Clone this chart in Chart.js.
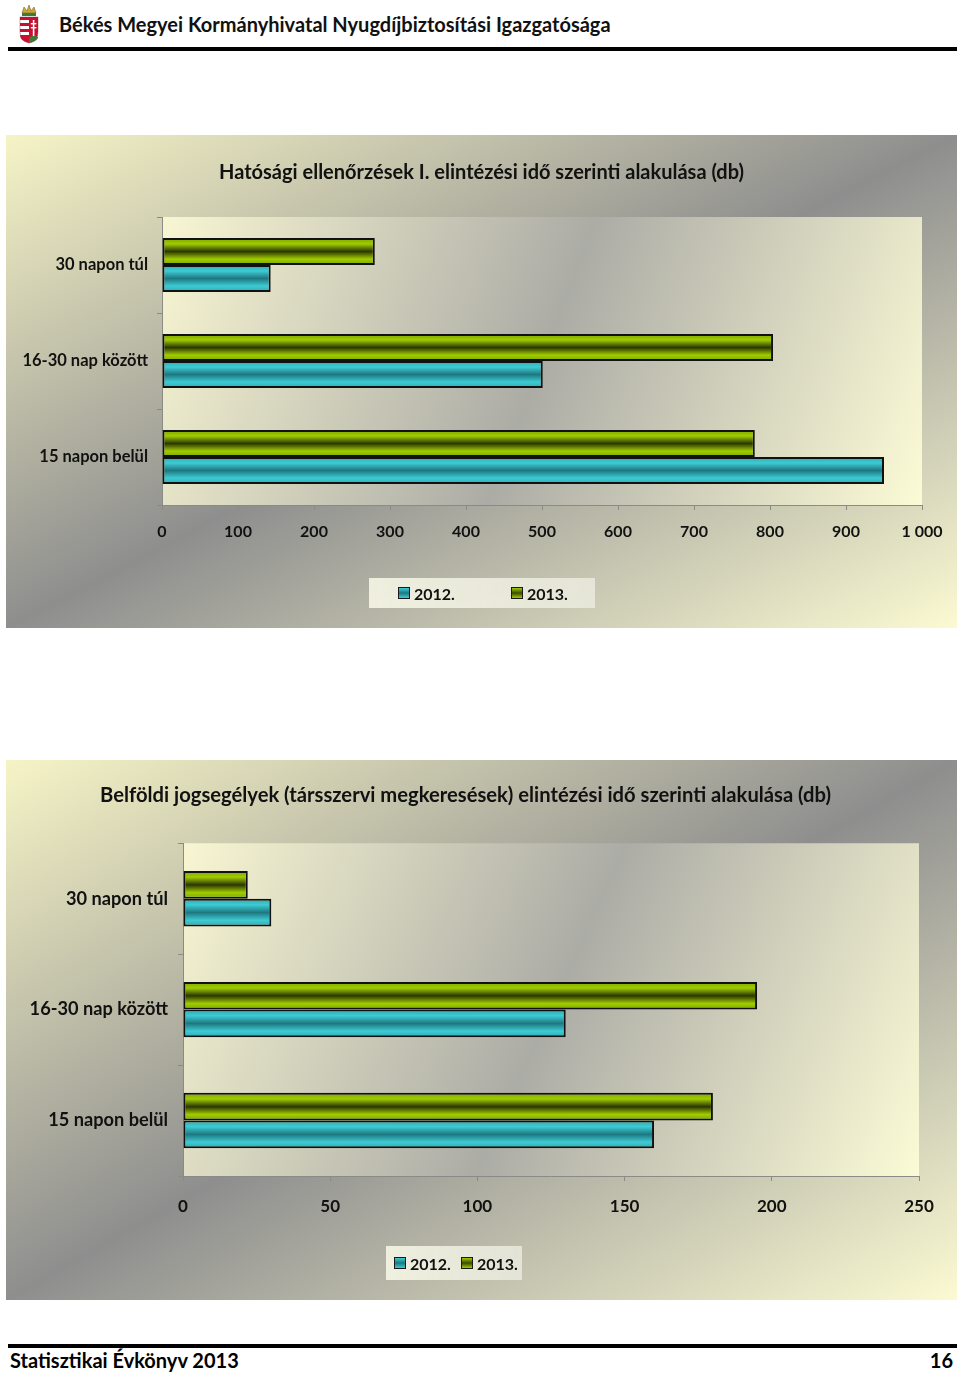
<!DOCTYPE html>
<html lang="hu">
<head>
<meta charset="utf-8">
<script src="https://cdn.jsdelivr.net/npm/chart.js@4/dist/chart.umd.min.js"></script>
<style>
  body { margin: 0; width: 960px; height: 1374px; background: #fff; position: relative; overflow: hidden; font-family: Lato, sans-serif; }
  .head { position: absolute; left: 59px; top: 12px; font: bold 20px Lato, sans-serif; color: #111; white-space: nowrap; }
  .logo { position: absolute; left: 17px; top: 4px; }
  .rule { position: absolute; left: 8px; width: 949px; height: 4px; background: #000; }
  .panel { position: absolute; left: 6px; width: 951px; background: linear-gradient(to bottom right, #f6f4c6 0%, #8e8e8e 50%, #fbfad2 100%); }
  .panel canvas { position: absolute; left: 0; top: 0; }
  .legend { position: absolute; background: linear-gradient(to right, rgba(255,255,238,0.8), rgba(238,238,228,0.75)); }
  .legend .item { position: absolute; top: 0; height: 100%; display: flex; align-items: center; font: bold 16px Lato, sans-serif; color: #111; white-space: nowrap; }
  .legend .sw { width: 10px; height: 10px; border: 1.5px solid #1a1a1a; margin-right: 4px; }
  .foot { position: absolute; top: 1348px; font: bold 20px Lato, sans-serif; color: #000; }
</style>
</head>
<body>
<svg class="logo" width="24" height="40" viewBox="0 0 24 40">
  <path d="M5 9 L7 3 L10 7 L12 1 L14 7 L17 3 L19 9 Z" fill="#c8a83a" stroke="#7a6a20" stroke-width="0.6"/>
  <rect x="5" y="9" width="14" height="3" fill="#3f7a3a"/>
  <path d="M3 13 H21 V28 Q21 37 12 39 Q3 37 3 28 Z" fill="#fff" stroke="#888" stroke-width="0.6"/>
  <rect x="3" y="13" width="9" height="3" fill="#c8102e"/>
  <rect x="3" y="19" width="9" height="3" fill="#c8102e"/>
  <rect x="3" y="25" width="9" height="3" fill="#c8102e"/>
  <path d="M3 31 H12 V39 Q3 37 3 31 Z" fill="#c8102e"/>
  <path d="M12 13 H21 V28 Q21 37 12 39 Z" fill="#c8102e"/>
  <path d="M12 34 Q16 30 21 33 V34 Q19 38 12 39 Z" fill="#3f7a3a"/>
  <rect x="15.8" y="16" width="1.6" height="16" fill="#fff"/>
  <rect x="13.8" y="19" width="5.6" height="1.4" fill="#fff"/>
  <rect x="13.8" y="23" width="5.6" height="1.4" fill="#fff"/>
</svg>
<div class="head">Békés Megyei Kormányhivatal Nyugdíjbiztosítási Igazgatósága</div>
<div class="rule" style="top:47px"></div>

<div class="panel" id="panel1" style="top:135px;height:493px">
  <canvas id="chart1" width="951" height="493"></canvas>
  <div class="legend" id="legend1" style="left:363px;top:443px;width:226px;height:30px"></div>
</div>
<div class="panel" id="panel2" style="top:760px;height:540px">
  <canvas id="chart2" width="951" height="540"></canvas>
  <div class="legend" id="legend2" style="left:380px;top:486px;width:136px;height:34px"></div>
</div>

<div class="rule" style="top:1344px"></div>
<div class="foot" style="left:10px">Statisztikai Évkönyv 2013</div>
<div class="foot" style="right:7px">16</div>

<script>
const categories = ["30 napon túl", "16-30 nap között", "15 napon belül"];
const seriesNames = ["2012.", "2013."];

// Hatósági ellenőrzések (db)
const ellenorzes2012 = [143, 501, 950];
const ellenorzes2013 = [280, 804, 780];

// Belföldi jogsegélyek (db)
const jogsegely2012 = [30, 130, 160];
const jogsegely2013 = [22, 195, 180];

const greenStops = ["#7ea400", "#a0cc00", "#2c3600", "#a0cc00", "#7ea400"];
const cyanStops = ["#2aaab2", "#3ecbd3", "#1d7880", "#3ecbd3", "#2aaab2"];

function thousands(v) {
  return String(v).replace(/\B(?=(\d{3})+(?!\d))/g, " ");
}

// vertical gradient for each bar, placed from the category scale
function barFill(stops, catPct) {
  return (c) => {
    const chart = c.chart;
    const sc = chart.scales.y;
    if (!sc || c.dataIndex === undefined || !(sc.height > 0)) return stops[1];
    const catH = sc.height / chart.data.labels.length;
    const barH = catH * catPct / chart.data.datasets.length;
    const top = sc.getPixelForValue(c.dataIndex) - catH * catPct / 2 + c.datasetIndex * barH;
    if (!Number.isFinite(top) || !Number.isFinite(barH)) return stops[1];
    const g = chart.ctx.createLinearGradient(0, top, 0, top + barH);
    [0, 0.22, 0.5, 0.78, 1].forEach((p, i) => g.addColorStop(p, stops[i]));
    return g;
  };
}

const plotBg = {
  id: "plotBg",
  beforeDraw(chart) {
    const { ctx, chartArea: a } = chart;
    ctx.save();
    const g = ctx.createLinearGradient(a.left, a.top, a.right, a.bottom);
    g.addColorStop(0, "#f8f6d2");
    g.addColorStop(0.5, "#acaca6");
    g.addColorStop(1, "#fcfbd6");
    ctx.fillStyle = g;
    ctx.fillRect(a.left, a.top, a.right - a.left, a.bottom - a.top);
    ctx.restore();
  }
};

function updateLegend(chart, boxId, positions) {
  const box = document.getElementById(boxId);
  box.innerHTML = "";
  // legend lists 2012. first, then 2013.
  const items = chart.data.datasets.slice().reverse();
  items.forEach((ds, i) => {
    const item = document.createElement("div");
    item.className = "item";
    item.style.left = positions[i] + "px";
    const sw = document.createElement("span");
    sw.className = "sw";
    sw.style.background = ds.swatch;
    item.appendChild(sw);
    item.appendChild(document.createTextNode(ds.label));
    box.appendChild(item);
  });
}

function makeChart(id, s) {
  const chart = new Chart(document.getElementById(id), {
    type: "bar",
    data: {
      labels: categories,
      datasets: [
        {
          label: seriesNames[1], data: s.d2013,
          backgroundColor: barFill(greenStops, s.catPct),
          swatch: "linear-gradient(#a0cc00, #3a4a00 50%, #a0cc00)"
        },
        {
          label: seriesNames[0], data: s.d2012,
          backgroundColor: barFill(cyanStops, s.catPct),
          swatch: "linear-gradient(#3ecbd3, #1d7880 50%, #3ecbd3)"
        }
      ]
    },
    options: {
      indexAxis: "y",
      responsive: false,
      animation: false,
      devicePixelRatio: 1,
      layout: { padding: { left: 0, right: s.padRight, top: 0, bottom: s.padBottom } },
      datasets: {
        bar: {
          categoryPercentage: s.catPct,
          barPercentage: 1,
          borderColor: "#111",
          borderWidth: 2,
          borderSkipped: false
        }
      },
      scales: {
        x: {
          min: 0,
          max: s.max,
          afterFit: (sc) => { sc.height = s.xHeight; },
          ticks: {
            stepSize: s.step,
            color: "#111",
            padding: s.xTickPad,
            font: { family: "Lato", weight: "bold", size: s.tickSize },
            callback: (v) => thousands(v)
          },
          grid: { drawOnChartArea: false, color: "#8a8a86", tickLength: 5 },
          border: { color: "#8a8a86", width: 1 }
        },
        y: {
          afterFit: (sc) => { sc.width = s.yWidth; },
          ticks: {
            color: "#111",
            padding: s.yTickPad,
            font: { family: "Lato", weight: "bold", size: s.catSize }
          },
          grid: { drawOnChartArea: false, color: "#8a8a86", tickLength: 5 },
          border: { color: "#8a8a86", width: 1 }
        },
        // empty spacer on the right so the plot ends where the original does
        spacer: {
          type: "linear",
          position: "right",
          afterFit: (sc) => { sc.width = s.spacer; },
          ticks: { display: false },
          grid: { display: false },
          border: { display: false }
        }
      },
      plugins: {
        title: {
          display: true,
          text: s.title,
          color: "#111",
          font: { family: "Lato", weight: "bold", size: s.titleSize },
          padding: { top: s.titleTop, bottom: s.titleBottom }
        },
        legend: { display: false },
        tooltip: { enabled: false }
      }
    },
    plugins: [plotBg]
  });
  chart.update("none");
  updateLegend(chart, s.legendId, s.legendPos);
  return chart;
}

makeChart("chart1", {
  title: "Hatósági ellenőrzések I. elintézési idő szerinti alakulása (db)",
  d2012: ellenorzes2012,
  d2013: ellenorzes2013,
  max: 1000, step: 100,
  catPct: 0.5625,
  titleSize: 20, titleTop: 26, titleBottom: 32,
  catSize: 16.5, tickSize: 16,
  yWidth: 156, yTickPad: 9,
  xHeight: 60, xTickPad: 12,
  padRight: 0, spacer: 35, padBottom: 63,
  legendId: "legend1", legendPos: [29, 142]
});

makeChart("chart2", {
  title: "Belföldi jogsegélyek (társszervi megkeresések) elintézési idő szerinti alakulása (db)",
  d2012: jogsegely2012,
  d2013: jogsegely2013,
  max: 250, step: 50,
  catPct: 0.5,
  titleSize: 20.2, titleTop: 23, titleBottom: 36,
  catSize: 18.2, tickSize: 17,
  yWidth: 177, yTickPad: 10,
  xHeight: 60, xTickPad: 15,
  padRight: 32, spacer: 6, padBottom: 64,
  legendId: "legend2", legendPos: [8, 75]
});
</script>
</body>
</html>
